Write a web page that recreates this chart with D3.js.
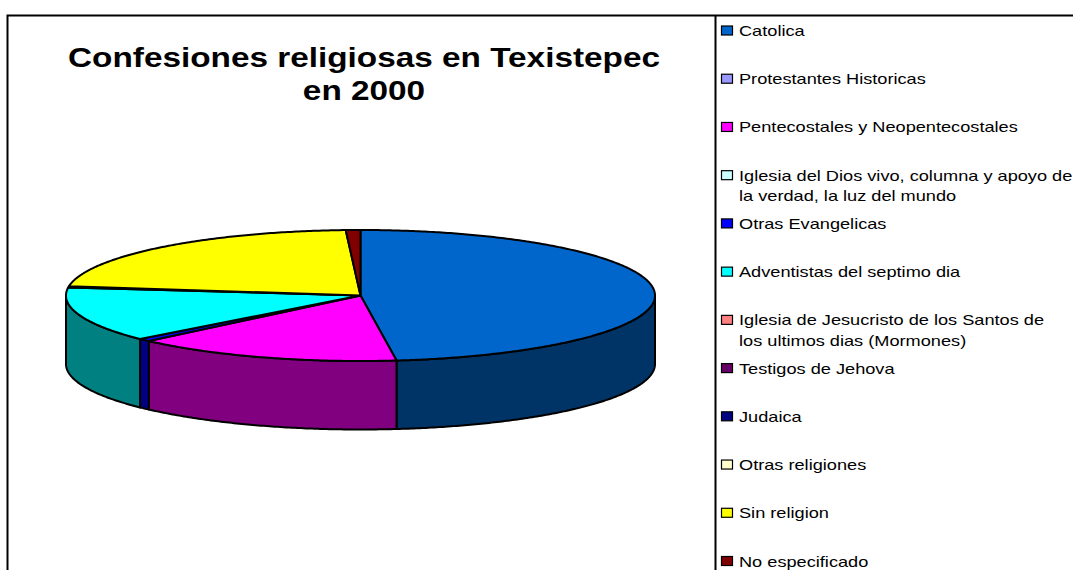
<!DOCTYPE html>
<html lang="es">
<head>
<meta charset="utf-8">
<title>Confesiones religiosas en Texistepec en 2000</title>
<script src="https://cdn.jsdelivr.net/npm/d3@7/dist/d3.min.js"></script>
<style>
  html, body { margin: 0; padding: 0; background: #fff; overflow: hidden; }
  svg { display: block; }
  text { font-family: "Liberation Sans", Arial, sans-serif; fill: #000; }
</style>
</head>
<body>
<svg id="chart" width="1073" height="570"></svg>
<script>
// Religious affiliation shares (percent), in legend order
const categories = [
  "Catolica",
  "Protestantes Historicas",
  "Pentecostales y Neopentecostales",
  "Iglesia del Dios vivo, columna y apoyo de|la verdad, la luz del mundo",
  "Otras Evangelicas",
  "Adventistas del septimo dia",
  "Iglesia de Jesucristo de los Santos de|los ultimos dias (Mormones)",
  "Testigos de Jehova",
  "Judaica",
  "Otras religiones",
  "Sin religion",
  "No especificado"
];
const shares = [48.0, 0, 14.7, 0, 0.7, 13.5, 0, 0.3, 0, 0, 21.9, 0.8];
const topColors = ["#0066cc", "#9999ff", "#ff00ff", "#ccffff", "#0000ff", "#00ffff",
                   "#ff8080", "#660066", "#000080", "#ffffcc", "#ffff00", "#800000"];
const sideColors = ["#003366", "#4c4c80", "#800080", "#668080", "#000080", "#008080",
                    "#804040", "#330033", "#000040", "#808066", "#808000", "#400000"];
const titleLines = ["Confesiones religiosas en Texistepec", "en 2000"];

const W = 1073, H = 570;
// The whole chart is drawn with its text widened horizontally
const textStretch = 1.212;
const svg = d3.select("#chart");

// Chart frame: runs past the right and bottom edges of the page
const frameLeft = 7.5, frameTop = 15.5, dividerX = 715.5;
svg.append("path")
  .attr("d", `M${frameLeft},${H + 5}V${frameTop}H${W + 5}M${dividerX},${frameTop}V${H + 5}`)
  .attr("fill", "none").attr("stroke", "#000").attr("stroke-width", 2);

// Title
svg.append("g").selectAll("text").data(titleLines).join("text")
  .attr("transform", (d, i) => `translate(364,${67 + i * 33}) scale(${textStretch},1)`)
  .attr("text-anchor", "middle")
  .attr("font-weight", "bold")
  .attr("font-size", 27.5)
  .text(d => d);

// Tilted pie geometry: a circle of angles projected to an ellipse
const cx = 360.5, cy = 295.5, rx = 294.5, ry = 65.5, depth = 68.5;
const px = a => cx + rx * Math.sin(a);
const py = (a, drop = 0) => cy - ry * Math.cos(a) + drop;

const slices = d3.pie().sort(null).startAngle(0).endAngle(2 * Math.PI)(shares)
  .map((s, i) => ({ ...s, i }))
  .filter(s => s.value > 0);

const line = d3.line().x(p => p[0]).y(p => p[1]);
const samples = (a0, a1, drop) => {
  const n = Math.max(2, Math.ceil((a1 - a0) / 0.01));
  return d3.range(n + 1).map(k => {
    const a = a0 + (a1 - a0) * k / n;
    return [px(a), py(a, drop)];
  });
};

// Side wall: only the front half of the rim (angles between 90° and 270°)
const pie = svg.append("g").attr("stroke", "#000").attr("stroke-width", 2).attr("stroke-linejoin", "round");
pie.append("g").selectAll("path")
  .data(slices.filter(s => s.endAngle > Math.PI / 2 && s.startAngle < 3 * Math.PI / 2))
  .join("path")
  .attr("fill", s => sideColors[s.i])
  .attr("d", s => {
    const a0 = Math.max(s.startAngle, Math.PI / 2);
    const a1 = Math.min(s.endAngle, 3 * Math.PI / 2);
    return line([...samples(a0, a1, 0), ...samples(a0, a1, depth).reverse()]) + "Z";
  });

// Top face of each slice
pie.append("g").selectAll("path")
  .data(slices)
  .join("path")
  .attr("fill", s => topColors[s.i])
  .attr("d", s => line([[cx, cy], ...samples(s.startAngle, s.endAngle, 0)]) + "Z");

// Legend
const legendY = d3.scaleLinear().domain([0, categories.length - 1]).range([30.5, 561]);
const rows = svg.append("g").selectAll("g").data(categories).join("g")
  .attr("transform", (d, i) => `translate(721,${legendY(i)})`);
rows.append("rect")
  .attr("x", 0.5).attr("y", -4.5).attr("width", 11).attr("height", 9)
  .attr("fill", (d, i) => topColors[i])
  .attr("stroke", "#000").attr("stroke-width", 1.2);
rows.selectAll("text").data(d => d.split("|")).join("text")
  .attr("transform", (d, k) => `translate(18,${5.5 + k * 20.5}) scale(${textStretch},1)`)
  .attr("font-size", 15)
  .text(d => d);
</script>
</body>
</html>
